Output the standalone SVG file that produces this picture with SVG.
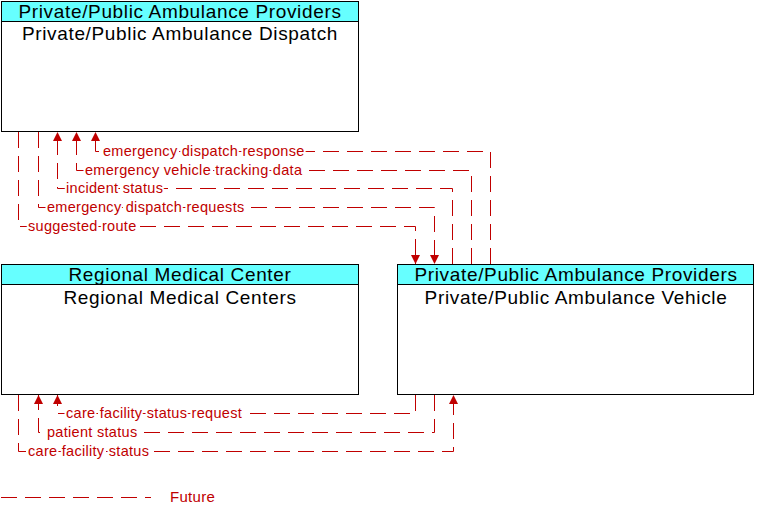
<svg xmlns="http://www.w3.org/2000/svg" width="764" height="516" viewBox="0 0 764 516">
<defs>
<style>
.box{fill:#fff;stroke:#000;stroke-width:1}
.hdr{fill:#66FFFF;stroke:#000;stroke-width:1}
.t{font-family:"Liberation Sans",Arial,sans-serif;font-size:19px;letter-spacing:0.65px;fill:#000;text-anchor:middle}
.f{fill:none;stroke:#C00000;stroke-width:1;stroke-dasharray:16 8}
.l{font-family:"Liberation Sans",Arial,sans-serif;font-size:14.5px;letter-spacing:0.3px;fill:#C00000;stroke:#fff;stroke-width:4;paint-order:stroke;stroke-linejoin:round}
</style>
<marker id="ah" viewBox="0 0 10 10" refX="10" refY="5" markerWidth="10" markerHeight="9" markerUnits="userSpaceOnUse" orient="auto">
<path d="M0,0 L10,5 L0,10 Z" fill="#C00000"/>
</marker>
</defs>
<g id="dispatch">
<rect class="box" x="1.5" y="1.5" width="357" height="130"/>
<rect class="hdr" x="1.5" y="1.5" width="357" height="20"/>
<text class="t" x="180" y="18">Private/Public Ambulance Providers</text>
<text class="t" x="180" y="40">Private/Public Ambulance Dispatch</text>
</g>
<g id="regional">
<rect class="box" x="1.5" y="264.5" width="357" height="130"/>
<rect class="hdr" x="1.5" y="264.5" width="357" height="20"/>
<text class="t" x="180" y="281">Regional Medical Center</text>
<text class="t" x="180" y="304">Regional Medical Centers</text>
</g>
<g id="vehicle">
<rect class="box" x="397.5" y="264.5" width="356" height="130"/>
<rect class="hdr" x="397.5" y="264.5" width="356" height="20"/>
<text class="t" x="576" y="281">Private/Public Ambulance Providers</text>
<text class="t" x="576" y="304">Private/Public Ambulance Vehicle</text>
</g>
<g id="connectors">
<path class="f" d="M490.5,264 V151.5 H95.5 V132" marker-end="url(#ah)"/>
<path class="f" d="M471.5,264 V170.5 H76.5 V132" marker-end="url(#ah)"/>
<path class="f" d="M452.5,264 V188.5 H57.5 V132" marker-end="url(#ah)"/>
<path class="f" d="M38.5,132 V207.5 H434.5 V264" marker-end="url(#ah)"/>
<path class="f" d="M18.5,132 V226.5 H415.5 V264" marker-end="url(#ah)"/>
<path class="f" d="M415.5,395 V413.5 H57.5 V395" marker-end="url(#ah)"/>
<path class="f" d="M434.5,395 V432.5 H38.5 V395" marker-end="url(#ah)"/>
<path class="f" d="M18.5,395 V451.5 H453.5 V395" marker-end="url(#ah)"/>
<text class="l" x="103" y="156">emergency dispatch response</text>
<text class="l" x="85" y="175">emergency vehicle tracking data</text>
<text class="l" x="66" y="193">incident status</text>
<text class="l" x="47" y="212">emergency dispatch requests</text>
<text class="l" x="28" y="231">suggested route</text>
<text class="l" x="66" y="418">care facility status request</text>
<text class="l" x="47" y="437">patient status</text>
<text class="l" x="28" y="456">care facility status</text>
</g>
<g id="legend">
<path class="f" d="M1,497.5 H151"/>
<text class="l" x="170" y="502" style="font-size:15px">Future</text>
</g>
</svg>
